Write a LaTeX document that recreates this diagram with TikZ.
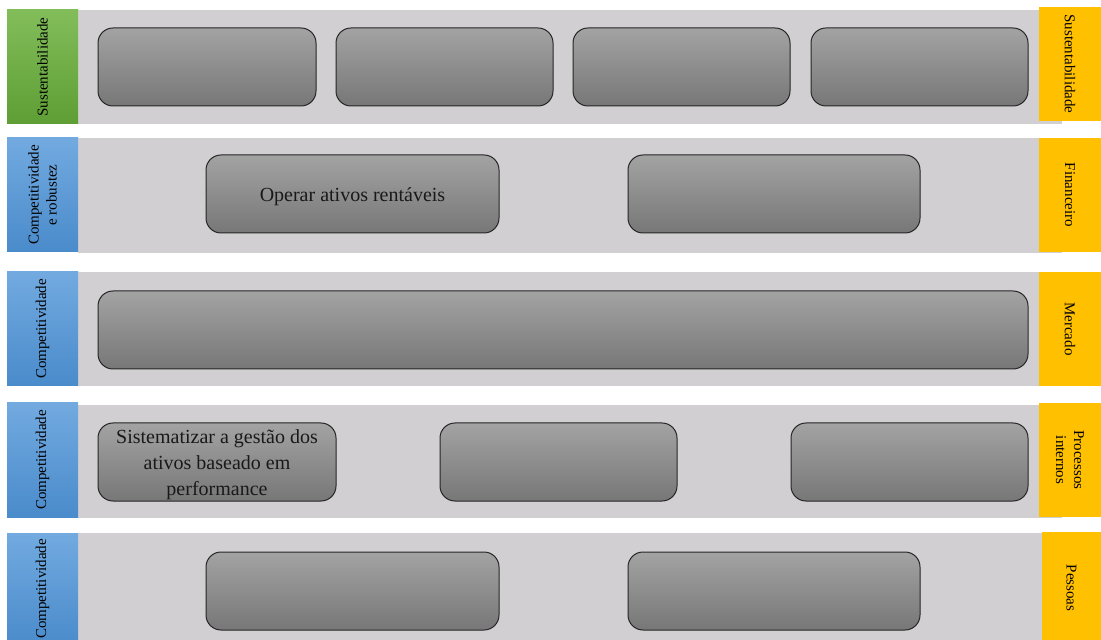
\documentclass[tikz,border=0pt]{standalone}
\usepackage{fontspec}
\setmainfont{Liberation Serif}
\definecolor{bandgray}{HTML}{D1CFD1}
\definecolor{boxtop}{HTML}{A3A3A3}
\definecolor{boxbot}{HTML}{777777}
\definecolor{greentop}{HTML}{82BD5A}
\definecolor{greenbot}{HTML}{5E9E34}
\definecolor{bluetop}{HTML}{72AAE0}
\definecolor{bluebot}{HTML}{4A8BCB}
\definecolor{gold}{HTML}{FFC000}
\tikzset{
  band/.style={fill=bandgray, draw=none, inner sep=0pt, minimum width=492pt},
  goal/.style={draw=black!85, line width=0.5pt, rounded corners=7.5pt, top color=boxtop, bottom color=boxbot,
    inner sep=0pt, minimum height=39pt},
  goaltext/.style={align=center, font=\fontsize{10}{13}\selectfont, text=black!90, inner sep=0pt, yshift=-1.5pt},
  leftlab/.style={draw=none, inner sep=0pt, minimum width=35.5pt, minimum height=57pt},
  greenlab/.style={leftlab, top color=greentop, bottom color=greenbot},
  bluelab/.style={leftlab, top color=bluetop, bottom color=bluebot},
  rightlab/.style={fill=gold, draw=none, inner sep=0pt, minimum width=31pt, minimum height=57pt},
  ltext/.style={rotate=90, align=center, font=\fontsize{7.5}{9}\selectfont, inner sep=0pt},
  rtext/.style={rotate=-90, align=center, font=\fontsize{7.5}{9}\selectfont, inner sep=0pt}
}
\begin{document}
\begin{tikzpicture}[x=0.5pt, y=-0.5pt]
\useasboundingbox (0,0) rectangle (1101,640);
% bands
\node[band, minimum height=57pt] (b1) at (570,67) {};
\node[band, minimum height=57.5pt] (b2) at (570,195.5) {};
\node[band, minimum height=57pt] (b3) at (570,329) {};
\node[band, minimum width=503pt, minimum height=56.5pt] (b4) at (559,461.5) {};
\node[band, minimum height=58.5pt] (b5) at (570,591.5) {};
% band 1 boxes
\node[goal, minimum width=109pt] (g11) at (207,67) {};
\node[goal, minimum width=108.5pt] (g12) at (444.5,67) {};
\node[goal, minimum width=108.5pt] (g13) at (681.5,67) {};
\node[goal, minimum width=108.5pt] (g14) at (919.5,67) {};
% band 2 boxes
\node[goal, minimum width=146.5pt] (g21) at (352.5,194) {};
\node[goaltext] (g21t) at (g21.center) {Operar ativos rentáveis};
\node[goal, minimum width=146pt] (g22) at (774,194) {};
% band 3 box
\node[goal, minimum width=465pt] (g31) at (563,330) {};
% band 4 boxes
\node[goal, minimum width=119pt] (g41) at (217,462) {};
\node[goaltext] (g41t) at (g41.center) {Sistematizar a gestão dos\\ativos baseado em\\performance};
\node[goal, minimum width=118.5pt] (g42) at (558.5,462) {};
\node[goal, minimum width=118.5pt] (g43) at (909.5,462) {};
% band 5 boxes
\node[goal, minimum width=146.5pt] (g51) at (352.5,591) {};
\node[goal, minimum width=146pt] (g52) at (774,591) {};
% left labels
\node[greenlab] (l1) at (42.5,67) {};
\node[ltext] (l1t) at (l1.center) {Sustentabilidade};
\node[bluelab] (l2) at (42.5,195) {};
\node[ltext] (l2t) at (l2.center) {Competitividade\\e robustez};
\node[bluelab] (l3) at (42.5,329) {};
\node[ltext] (l3t) at (l3.center) {Competitividade};
\node[bluelab] (l4) at (42.5,460) {};
\node[ltext] (l4t) at (l4.center) {Competitividade};
\node[bluelab, minimum height=56pt] (l5) at (42.5,589) {};
\node[ltext] (l5t) at (l5.center) {Competitividade};
% right labels
\node[rightlab] (r1) at (1070,64) {};
\node[rtext] (r1t) at (r1.center) {Sustentabilidade};
\node[rightlab] (r2) at (1070,195) {};
\node[rtext] (r2t) at (r2.center) {Financeiro};
\node[rightlab] (r3) at (1070,329) {};
\node[rtext] (r3t) at (r3.center) {Mercado};
\node[rightlab] (r4) at (1070,460) {};
\node[rtext] (r4t) at (r4.center) {Processos\\internos};
\node[rightlab, minimum width=29.5pt, minimum height=56pt] (r5) at (1071.5,588) {};
\node[rtext] (r5t) at (r5.center) {Pessoas};
\end{tikzpicture}
\end{document}
